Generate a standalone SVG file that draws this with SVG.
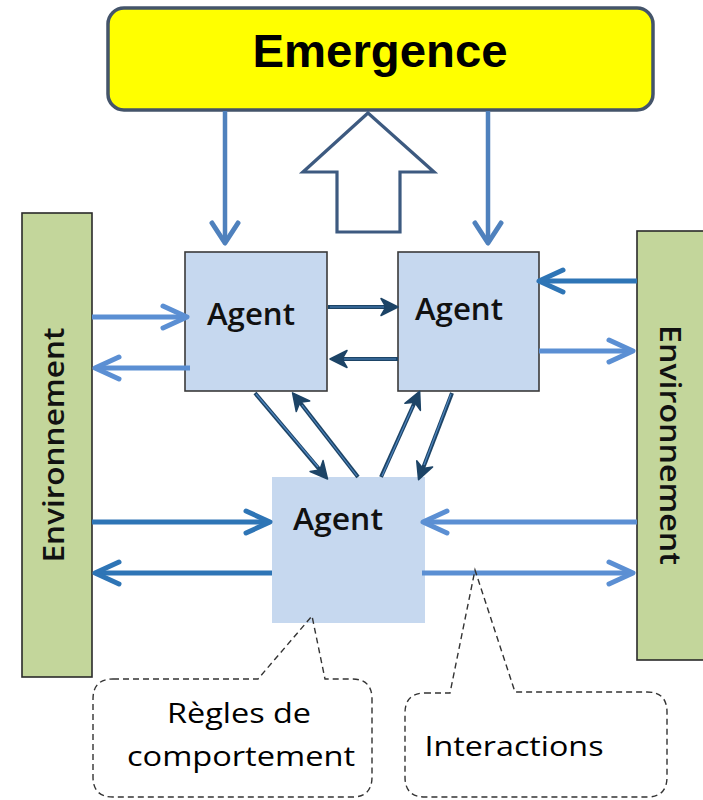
<svg xmlns="http://www.w3.org/2000/svg" width="703" height="800" viewBox="0 0 703 800">
<style>
.agent{fill:#c6d8ef;stroke:#3a3a3a;stroke-width:1.6}
.agent3{fill:#c6d8ef}
.env{fill:#c3d69b;stroke:#2a2a2a;stroke-width:1.6}
.lbl{font-family:"Open Sans","Liberation Sans",sans-serif;fill:#111}
.agtxt{font-size:31px;font-weight:600}
.envtxt{font-size:28px;font-weight:600}
.cotxt{font-size:28px;font-weight:500;fill:#000}
.callout{fill:none;stroke:#333;stroke-width:1.4;stroke-dasharray:6 4}
.blue{fill:none;stroke-width:5}
.light{stroke:#5b8fd3}
.mid{stroke:#2e75b6}
.down{fill:none;stroke:#4f81bd;stroke-width:4.5}
.dk{fill:none;stroke:#1d4466;stroke-width:4}
.dkin{fill:none;stroke:#4f86c0;stroke-width:1.2}
</style>
<defs>
<marker id="chL" markerUnits="userSpaceOnUse" viewBox="-30 -15 34 30" refX="-2" refY="0" markerWidth="34" markerHeight="30" orient="auto" overflow="visible">
<path d="M-24,-11 L0,0 L-24,11" fill="none" stroke="#5b8fd3" stroke-width="5" stroke-linecap="round" stroke-linejoin="round"/>
</marker>
<marker id="chM" markerUnits="userSpaceOnUse" viewBox="-30 -15 34 30" refX="-2" refY="0" markerWidth="34" markerHeight="30" orient="auto" overflow="visible">
<path d="M-24,-11 L0,0 L-24,11" fill="none" stroke="#2e75b6" stroke-width="5" stroke-linecap="round" stroke-linejoin="round"/>
</marker>
<marker id="chD" markerUnits="userSpaceOnUse" viewBox="-30 -15 34 30" refX="-2" refY="0" markerWidth="34" markerHeight="30" orient="auto" overflow="visible">
<path d="M-20,-13 L0,0 L-20,13" fill="none" stroke="#4f81bd" stroke-width="5" stroke-linecap="round" stroke-linejoin="round"/>
</marker>
<marker id="dkH" markerUnits="userSpaceOnUse" viewBox="-22 -12 26 24" refX="-4" refY="0" markerWidth="26" markerHeight="24" orient="auto" overflow="visible">
<path d="M0,0 L-17,-8.5 L-12,0 L-17,8.5 Z" fill="#1d4466" stroke="#1d4466" stroke-width="1.5" stroke-linejoin="round"/>
</marker>
</defs>

<g id="emergence">
<rect x="108" y="8" width="545" height="102" rx="16" fill="#ffff00" stroke="#44546a" stroke-width="3.5"/>
<text x="380" y="67" text-anchor="middle" font-family="Liberation Sans, Arial, sans-serif" font-weight="bold" font-size="46" fill="#000" textLength="255" lengthAdjust="spacingAndGlyphs">Emergence</text>
</g>

<g id="emergence-arrow">
<path d="M368,113 L434,172 L400,172 L400,232 L337,232 L337,172 L303,172 Z" fill="#ffffff" stroke="#3d5a80" stroke-width="3.2" stroke-linejoin="miter"/>
</g>

<g id="env-left">
<rect class="env" x="22" y="213" width="70" height="464"/>
<text class="lbl envtxt" transform="translate(64,445) rotate(-90)" text-anchor="middle" textLength="235" lengthAdjust="spacingAndGlyphs">Environnement</text>
</g>

<g id="env-right">
<rect class="env" x="637" y="231" width="70" height="429"/>
<text class="lbl envtxt" transform="translate(660,445) rotate(90)" text-anchor="middle" textLength="240" lengthAdjust="spacingAndGlyphs">Environnement</text>
</g>

<g id="agent1">
<rect class="agent" x="185" y="252" width="142" height="139"/>
<text class="lbl agtxt" x="251" y="325" text-anchor="middle" textLength="88" lengthAdjust="spacingAndGlyphs">Agent</text>
</g>

<g id="agent2">
<rect class="agent" x="398" y="252" width="141" height="139"/>
<text class="lbl agtxt" x="459" y="320" text-anchor="middle" textLength="88" lengthAdjust="spacingAndGlyphs">Agent</text>
</g>

<g id="agent3">
<rect class="agent3" x="272" y="477" width="153" height="146"/>
<text class="lbl agtxt" x="338" y="530" text-anchor="middle" textLength="90" lengthAdjust="spacingAndGlyphs">Agent</text>
</g>

<g id="connectors">
<line class="down" x1="225" y1="111" x2="225" y2="241" marker-end="url(#chD)"/>
<line class="down" x1="488" y1="111" x2="488" y2="241" marker-end="url(#chD)"/>

<line class="blue light" x1="92" y1="317" x2="185" y2="317" marker-end="url(#chL)"/>
<line class="blue light" x1="190" y1="368" x2="97" y2="368" marker-end="url(#chL)"/>

<line class="blue mid" x1="637" y1="281" x2="541" y2="281" marker-end="url(#chM)"/>
<line class="blue light" x1="539" y1="351" x2="631" y2="351" marker-end="url(#chL)"/>

<line class="blue mid" x1="92" y1="522" x2="268" y2="522" marker-end="url(#chM)"/>
<line class="blue mid" x1="272" y1="573" x2="97" y2="573" marker-end="url(#chM)"/>

<line class="blue light" x1="637" y1="522" x2="425" y2="522" marker-end="url(#chL)"/>
<line class="blue light" x1="422" y1="573" x2="631" y2="573" marker-end="url(#chL)"/>

<g>
<line class="dk" x1="328" y1="307" x2="394" y2="307" marker-end="url(#dkH)"/>
<line class="dkin" x1="330" y1="307" x2="384" y2="307"/>
<line class="dk" x1="398" y1="359" x2="334" y2="359" marker-end="url(#dkH)"/>
<line class="dkin" x1="396" y1="359" x2="344" y2="359"/>
</g>

<g>
<line class="dk" x1="255" y1="393" x2="325" y2="476" marker-end="url(#dkH)"/>
<line class="dkin" x1="256" y1="394" x2="318" y2="467"/>
<line class="dk" x1="358" y1="477" x2="295" y2="396" marker-end="url(#dkH)"/>
<line class="dkin" x1="357" y1="476" x2="302" y2="405"/>
</g>

<g>
<line class="dk" x1="381" y1="477" x2="418" y2="395" marker-end="url(#dkH)"/>
<line class="dkin" x1="382" y1="476" x2="413" y2="406"/>
<line class="dk" x1="452" y1="393" x2="420" y2="476" marker-end="url(#dkH)"/>
<line class="dkin" x1="451" y1="394" x2="424" y2="465"/>
</g>
</g>

<g id="callout-regles">
<path class="callout" d="M113,679 L258,679 L312,616 L325,679 L352,679 Q372,679 372,699 L372,777 Q372,797 352,797 L113,797 Q93,797 93,777 L93,699 Q93,679 113,679 Z"/>
<text class="lbl cotxt" x="239" y="723" text-anchor="middle" textLength="144" lengthAdjust="spacingAndGlyphs">Règles de</text>
<text class="lbl cotxt" x="241" y="766" text-anchor="middle" textLength="228" lengthAdjust="spacingAndGlyphs">comportement</text>
</g>

<g id="callout-interactions">
<path class="callout" d="M425,693 L450,693 L475,570 L515,692 L647,692 Q667,692 667,712 L667,777 Q667,797 647,797 L425,797 Q405,797 405,777 L405,713 Q405,693 425,693 Z"/>
<text class="lbl cotxt" x="514" y="756" text-anchor="middle" textLength="179" lengthAdjust="spacingAndGlyphs">Interactions</text>
</g>
</svg>
